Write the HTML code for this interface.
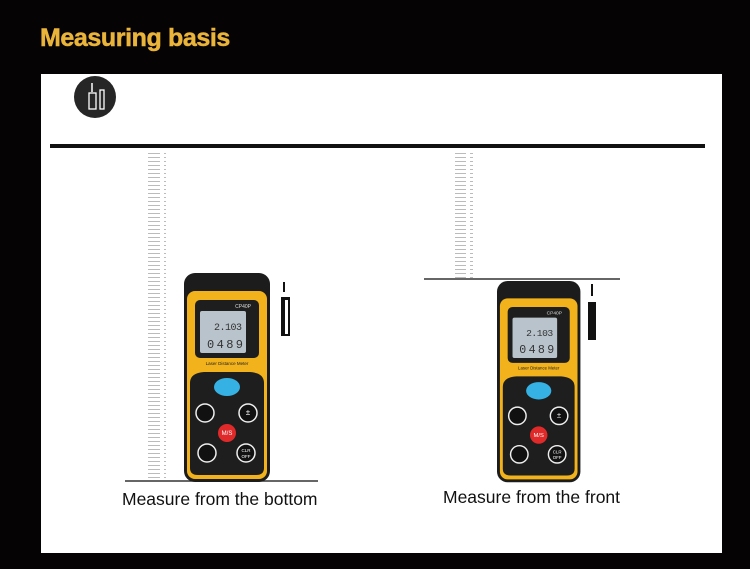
<!DOCTYPE html>
<html><head><style>
html,body{margin:0;padding:0;width:750px;height:569px;background:#050304;overflow:hidden;font-family:"Liberation Sans",sans-serif}
.panel{position:absolute;left:41px;top:74px;width:681px;height:479px;background:#fff}
.title{position:absolute;left:40px;top:24px;font-size:25px;font-weight:900;color:#eab43a;letter-spacing:-0.4px;-webkit-text-stroke:0.5px #eab43a}
.cap{position:absolute;font-size:17.5px;color:#111;font-family:"Liberation Sans",sans-serif}
</style></head><body>
<div class="title">Measuring basis</div>
<div class="panel"></div>
<svg width="750" height="569" style="position:absolute;left:0;top:0">
<defs>
<pattern id="ticks" width="18" height="4" patternUnits="userSpaceOnUse">
<rect x="2" y="1" width="14" height="1" fill="#bbb"/>
</pattern>
<g id="dev">
<rect x="0" y="0" width="86" height="209" rx="11" fill="#1c1c1c"/>
<rect x="3" y="18" width="80" height="188" rx="8" fill="#f2b21c"/>
<rect x="11" y="27" width="64" height="58" rx="5" fill="#1e1e1e"/>
<rect x="16" y="38" width="46" height="42" rx="2" fill="#b9c3cb"/>
<text x="67" y="35" font-size="5" fill="#ddd" text-anchor="end">CP40P</text>
<text x="58" y="57" font-size="10" fill="#333" font-family="Liberation Mono" text-anchor="end" textLength="28">2.103</text>
<text x="59" y="75" font-size="12" fill="#333" font-family="Liberation Mono" text-anchor="end" textLength="36">0489</text>
<text x="43" y="92" font-size="4.5" fill="#222" text-anchor="middle">Laser Distance Meter</text>
<path d="M6 110 Q6 100 20 99 L66 99 Q80 100 80 110 L80 195 Q80 202 72 202 L14 202 Q6 202 6 195Z" fill="#1e1e1e"/>
<ellipse cx="43" cy="114" rx="13" ry="9" fill="#36b1e4"/>
<circle cx="21" cy="140" r="9" fill="#111" stroke="#eee" stroke-width="1.5"/>
<circle cx="64" cy="140" r="9" fill="#111" stroke="#eee" stroke-width="1.5"/>
<circle cx="43" cy="160" r="9" fill="#e02a2a"/>
<text x="43" y="162" font-size="6" fill="#fff" text-anchor="middle">M/S</text>
<circle cx="23" cy="180" r="9" fill="#111" stroke="#eee" stroke-width="1.5"/>
<circle cx="62" cy="180" r="9" fill="#111" stroke="#eee" stroke-width="1.5"/>
<text x="62" y="179" font-size="4.5" fill="#fff" text-anchor="middle">CLR</text>
<text x="62" y="185" font-size="4.5" fill="#fff" text-anchor="middle">OFF</text>
<text x="64" y="142" font-size="8" fill="#fff" text-anchor="middle">±</text>
</g>
</defs>
<circle cx="95" cy="97" r="21" fill="#262626"/>
<rect x="89" y="93" width="7" height="16" fill="none" stroke="#fff" stroke-width="1.3"/>
<rect x="100" y="90" width="4" height="19" fill="none" stroke="#fff" stroke-width="1.3"/>
<line x1="92" y1="83" x2="92" y2="92" stroke="#fff" stroke-width="1.5"/>
<rect x="50" y="144" width="655" height="4" fill="#111"/>
<rect x="148" y="150" width="18" height="328" fill="url(#ticks)"/>
<rect x="455" y="150" width="18" height="128" fill="url(#ticks)"/>
<line x1="125" y1="481" x2="318" y2="481" stroke="#333" stroke-width="1.5"/>
<line x1="424" y1="279" x2="620" y2="279" stroke="#333" stroke-width="1.5"/>
<use href="#dev" transform="translate(184,273)"/>
<use href="#dev" transform="translate(497,281) scale(0.97,0.963)"/>
<rect x="281" y="297" width="9" height="39" fill="#111"/><rect x="283" y="300" width="5" height="34" fill="#fff"/><rect x="283" y="300" width="2" height="34" fill="#111"/>
<line x1="284" y1="282" x2="284" y2="292" stroke="#111" stroke-width="2"/>
<rect x="588" y="302" width="8" height="38" fill="#111"/>
<line x1="592" y1="284" x2="592" y2="296" stroke="#111" stroke-width="2"/>
</svg>
<div class="cap" style="left:122px;top:489px">Measure from the bottom</div>
<div class="cap" style="left:443px;top:487px">Measure from the front</div>
</body></html>
